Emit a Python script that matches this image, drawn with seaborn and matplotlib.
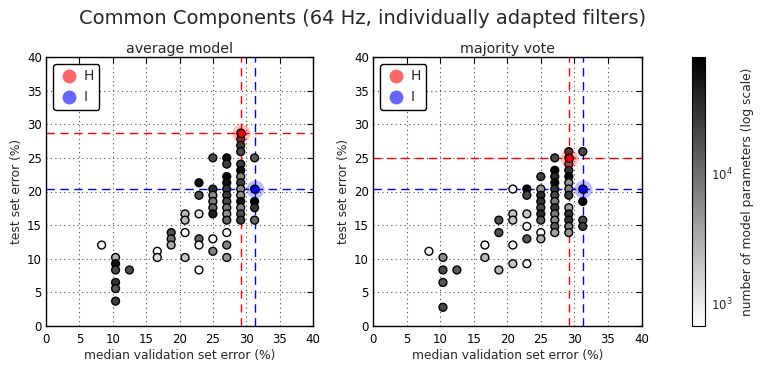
import numpy as np
import pandas as pd
import seaborn as sns
import matplotlib
matplotlib.use("Agg")
import matplotlib.pyplot as plt
from matplotlib.colors import LogNorm
from matplotlib.lines import Line2D
import matplotlib.cm as cm

# ---- data ----
# average model: columns of (validation error, test error, number of params)
avg_x = [8.33,
         10.42, 10.42, 10.42, 10.42, 10.42, 10.42,
         12.5,
         16.67, 16.67,
         18.75, 18.75, 18.75,
         20.83, 20.83, 20.83, 20.83,
         22.92, 22.92, 22.92, 22.92, 22.92, 22.92,
         25.0, 25.0, 25.0, 25.0, 25.0, 25.0, 25.0, 25.0,
         27.08, 27.08, 27.08, 27.08, 27.08, 27.08, 27.08, 27.08, 27.08, 27.08, 27.08, 27.08, 27.08,
         29.17, 29.17, 29.17, 29.17, 29.17, 29.17, 29.17, 29.17, 29.17, 29.17, 29.17, 29.17, 29.17, 29.17,
         31.25, 31.25, 31.25, 31.25, 31.25]
avg_y = [12.04,
         10.19, 9.26, 8.33, 6.48, 5.56, 3.70,
         8.33,
         11.11, 10.19,
         13.89, 12.96, 12.04,
         16.67, 15.74, 13.89, 10.19,
         21.30, 19.44, 16.67, 12.96, 12.04, 8.33,
         25.0, 20.37, 19.44, 18.52, 17.59, 16.67, 12.96, 11.11,
         25.0, 24.07, 22.22, 21.30, 20.37, 19.44, 18.52, 17.59, 16.67, 15.74, 13.89, 12.04, 10.19,
         28.70, 27.78, 26.85, 25.93, 24.07, 23.15, 22.22, 21.30, 20.37, 19.44, 18.52, 17.59, 16.67, 15.74,
         25.0, 20.37, 18.52, 17.59, 15.74]
avg_p = [800,
         3000, 60000, 20000, 30000, 15000, 25000,
         18000,
         700, 1300,
         18000, 10000, 3500,
         2500, 2500, 700, 2000,
         70000, 18000, 1200, 12000, 700, 700,
         20000, 35000, 6000, 8000, 12000, 45000, 800, 7000,
         60000, 25000, 70000, 60000, 30000, 25000, 20000, 8000, 5000, 12000, 800, 7000, 5000,
         30000, 25000, 25000, 20000, 25000, 70000, 7000, 25000, 6000, 5000, 70000, 7000, 18000, 25000,
         15000, 70000, 70000, 30000, 12000]

# majority vote
maj_x = [8.33,
         10.42, 10.42, 10.42, 10.42,
         12.5,
         16.67, 16.67,
         18.75, 18.75, 18.75,
         20.83, 20.83, 20.83, 20.83, 20.83,
         22.92, 22.92, 22.92, 22.92, 22.92, 22.92,
         25.0, 25.0, 25.0, 25.0, 25.0, 25.0, 25.0, 25.0, 25.0,
         27.08, 27.08, 27.08, 27.08, 27.08, 27.08, 27.08, 27.08, 27.08, 27.08, 27.08, 27.08,
         29.17, 29.17, 29.17, 29.17, 29.17, 29.17, 29.17, 29.17, 29.17, 29.17, 29.17, 29.17, 29.17,
         31.25, 31.25, 31.25, 31.25, 31.25]
maj_y = [11.11,
         10.19, 8.33, 6.48, 2.78,
         8.33,
         12.04, 10.19,
         15.74, 13.89, 8.33,
         20.37, 16.67, 15.74, 12.04, 9.26,
         20.37, 19.44, 16.67, 14.81, 12.96, 9.26,
         22.22, 20.37, 19.44, 18.52, 17.59, 16.67, 15.74, 13.89, 12.96,
         25.0, 23.15, 22.22, 21.30, 20.37, 19.44, 18.52, 17.59, 16.67, 15.74, 14.81, 13.89,
         25.93, 25.0, 24.07, 23.15, 22.22, 21.30, 20.37, 19.44, 17.59, 16.67, 15.74, 14.81, 13.89,
         25.93, 20.37, 18.52, 15.74, 14.81]
maj_p = [800,
         6000, 20000, 15000, 20000,
         15000,
         700, 2500,
         18000, 18000, 2500,
         700, 2000, 2000, 700, 2000,
         70000, 20000, 2000, 700, 15000, 700,
         25000, 5000, 35000, 30000, 20000, 35000, 15000, 800, 3000,
         20000, 70000, 35000, 70000, 30000, 20000, 8000, 30000, 8000, 6000, 15000, 4000,
         25000, 25000, 10000, 30000, 70000, 5000, 7000, 25000, 4000, 30000, 30000, 8000, 5000,
         20000, 70000, 70000, 18000, 25000]

# highlighted subjects H and I: (x, y) per panel
avg_H = (29.17, 28.70)
avg_I = (31.25, 20.37)
maj_H = (29.17, 25.0)
maj_I = (31.25, 20.37)

titles = ["average model", "majority vote"]
p_min, p_max = 670, 80000

sns.set_style("white")
plt.rcParams['font.family'] = ['DejaVu Sans']

fig = plt.figure(figsize=(7.61, 3.69), dpi=100)
W, H = 761.0, 369.0
ax1 = fig.add_axes([46 / W, 43 / H, 267 / W, 269 / H])
ax2 = fig.add_axes([373 / W, 43 / H, 268.5 / W, 269 / H])
cax = fig.add_axes([692 / W, 43 / H, 13.5 / W, 269 / H])

norm = LogNorm(vmin=p_min, vmax=p_max)

panels = [(ax1, avg_x, avg_y, avg_p, avg_H, avg_I, titles[0]),
          (ax2, maj_x, maj_y, maj_p, maj_H, maj_I, titles[1])]

for ax, xs, ys, ps, h, i, title in panels:
    df = pd.DataFrame({"val": xs, "test": ys, "params": ps})
    ax.grid(True, color="0.3", linestyle=(0, (1, 3)), linewidth=0.8, zorder=0)
    ax.set_axisbelow(True)
    sns.scatterplot(data=df, x="val", y="test", hue="params", palette="gray_r",
                    hue_norm=norm, s=32, edgecolor="k", linewidth=1,
                    legend=False, ax=ax, zorder=3)
    for (px, py), col in [(h, "red"), (i, "blue")]:
        ax.axvline(px, color=col, linestyle=(0, (6, 4)), linewidth=1, zorder=2)
        ax.axhline(py, color=col, linestyle=(0, (6, 4)), linewidth=1, zorder=2)
        ax.scatter([px], [py], s=170, color=col, alpha=0.25, linewidth=0, zorder=4)
        ax.scatter([px], [py], s=32, color=col, edgecolor="k", linewidth=0.8, zorder=5)
    ax.set_xlim(0, 40)
    ax.set_ylim(0, 40)
    ax.set_xticks(np.arange(0, 41, 5))
    ax.set_yticks(np.arange(0, 41, 5))
    ax.tick_params(direction="in", top=True, right=True, length=4, width=0.8,
                   labelsize=8.5, colors="k")
    ax.tick_params(axis="x", pad=5)
    ax.tick_params(axis="y", pad=3)
    for sp in ax.spines.values():
        sp.set_color("k")
        sp.set_linewidth(1)
    ax.set_xlabel("median validation set error (%)", fontsize=8.8, labelpad=2)
    ax.set_ylabel("test set error (%)", fontsize=8.8, labelpad=3)
    ax.set_title(title, fontsize=10.3, pad=3)
    handles = [Line2D([], [], marker="o", linestyle="none", color="red", alpha=0.6,
                      markersize=10, markeredgewidth=0),
               Line2D([], [], marker="o", linestyle="none", color="blue", alpha=0.6,
                      markersize=10, markeredgewidth=0)]
    leg = ax.legend(handles, ["H", "I"], loc="upper left", fontsize=10,
                    handletextpad=0.3, borderpad=0.4, labelspacing=0.5,
                    frameon=True, fancybox=True, framealpha=1, handlelength=1.5)
    leg.get_frame().set_edgecolor("k")
    leg.get_frame().set_linewidth(1)

sm = cm.ScalarMappable(norm=norm, cmap="gray_r")
cb = fig.colorbar(sm, cax=cax)
cb.set_label("number of model parameters (log scale)", fontsize=8.8, labelpad=6)
cb.ax.tick_params(labelsize=8.5, direction="in", length=3, which="major", pad=4)
cb.ax.tick_params(which="minor", length=0)
cb.outline.set_edgecolor("k")

fig.suptitle("Common Components (64 Hz, individually adapted filters)",
             fontsize=14, x=0.476, y=0.975)

fig.savefig("out.png", dpi=100)
